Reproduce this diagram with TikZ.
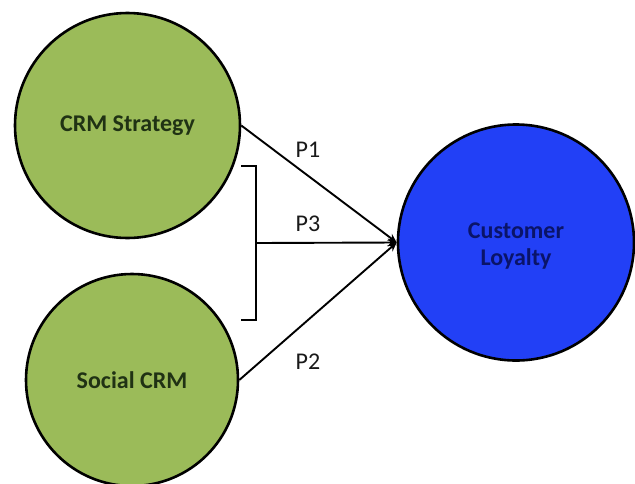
\documentclass[tikz,border=0pt]{standalone}
\usepackage{fontspec}
\setmainfont{Carlito}
\usetikzlibrary{arrows.meta}
\definecolor{olivegreen}{RGB}{155,187,89}
\definecolor{darkolive}{RGB}{32,50,20}
\definecolor{loyaltyblue}{RGB}{34,64,246}
\definecolor{navytext}{RGB}{10,20,105}
\definecolor{labelgrey}{RGB}{25,25,25}
\tikzset{
  greencircle/.style={circle, draw=black, line width=2.6pt, fill=olivegreen, text=darkolive, inner sep=0pt, font=\fontsize{24}{28}\selectfont\bfseries},
  bluecircle/.style={circle, draw=black, line width=2.6pt, fill=loyaltyblue, inner sep=0pt},
  bluetext/.style={text=navytext, font=\fontsize{24}{27}\selectfont\bfseries, align=center},
  link/.style={line width=1.9pt, -{Stealth[length=9pt,width=8pt]}},
  plabel/.style={text=labelgrey, font=\fontsize{24}{28}\selectfont},
  bracketline/.style={line width=1.9pt}
}
\begin{document}
\begin{tikzpicture}[x=1pt,y=-1pt]
\useasboundingbox (0,0) rectangle (635,483);
\node[greencircle, minimum size=225pt] (crm) at (127.5,125.5) {CRM Strategy};
\node[greencircle, minimum size=212pt] (soc) at (132,380) {Social CRM};
\node[bluecircle, minimum size=236pt] (cl) at (516,242.5) {};
\node[bluetext] (cltext) at (516,246) {Customer\\Loyalty};
\coordinate (btop) at (241,166);
\coordinate (bbot) at (241,320);
\coordinate (bmid) at (256,243);
\draw[bracketline] (btop) -- (256,166) -- (256,320) -- (bbot);
\draw[link] (crm.east) -- (cl.west);
\draw[link] (soc.east) -- (cl.west);
\draw[link] (bmid) -- (cl.west);
\node[plabel] (p1) at (308,150) {P1};
\node[plabel] (p3) at (308,224) {P3};
\node[plabel] (p2) at (308,362) {P2};
\end{tikzpicture}
\end{document}
